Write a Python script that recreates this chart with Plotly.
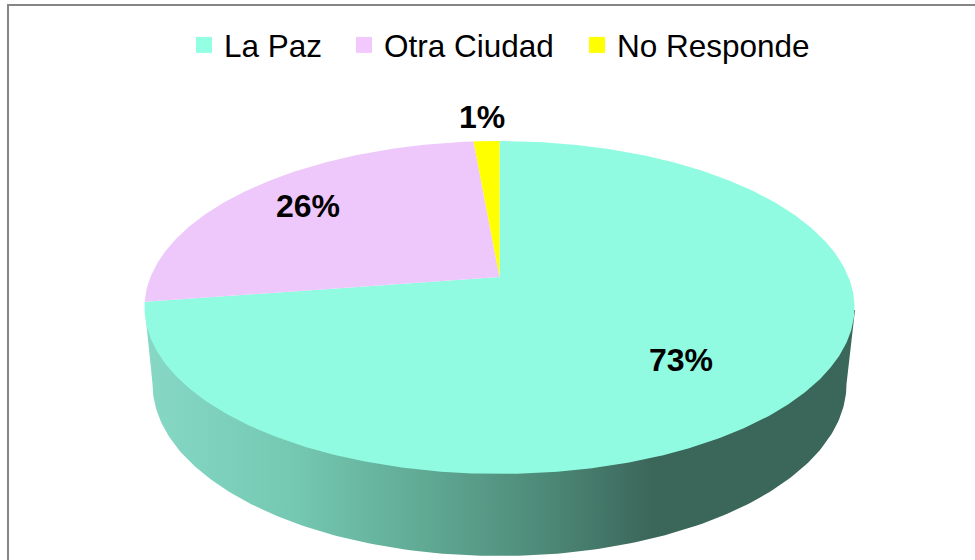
import numpy as np
import plotly.graph_objects as go

categories = ["La Paz", "Otra Ciudad", "No Responde"]
values = [72.6, 26.0, 1.4]
labels = ["73%", "26%", "1%"]
colors = ["#90FBE0", "#EEC8FB", "#FFFF00"]
legend_colors = ["#93FFE3", "#F3C9FD", "#FFFF00"]
label_pos = [(681, 360), (308, 206), (482, 117)]
legend_left = [184, 344, 577]

# pie is drawn in pixel space, top disc goes through a perspective map
CX, APEX_Y = 499.5, 277
RX, RY, K = 349, 160.9, 0.183
# lower rim of the wall
WALL_CY, WALL_RX, WALL_RY = 384, 347, 172


def project(theta, r=1.0):
    # theta clockwise from 12 o'clock
    X, Y = r * np.sin(theta), r * np.cos(theta)
    d = 1 + K * Y
    return CX + RX * X / d, APEX_Y - RY * Y / d


fig = go.Figure()

# side wall with the shading from left to right
t = np.linspace(np.pi, 0, 200)
wall_x = list(CX + WALL_RX * np.cos(t)) + [855, 145]
wall_y = list(WALL_CY + WALL_RY * np.sin(t)) + [310, 310]
fig.add_trace(go.Scatter(
    x=wall_x, y=wall_y, mode="lines", fill="toself", line=dict(width=0),
    showlegend=False, hoverinfo="skip",
    fillgradient=dict(
        type="horizontal", start=150, stop=850,
        colorscale=[[0, "#86D8C4"], [0.2, "#75C9B3"], [0.4, "#5FA892"],
                    [0.55, "#4F8C7A"], [0.72, "#3B665A"], [1, "#3B665A"]],
    ),
))

# slices, clockwise from the top
start = 0.0
for cat, val, col in zip(categories, values, colors):
    stop = start + val / sum(values) * 2 * np.pi
    th = np.linspace(start, stop, max(int(val * 6), 8))
    px_, py_ = project(th)
    fig.add_trace(go.Scatter(
        x=[CX] + list(px_) + [CX], y=[APEX_Y] + list(py_) + [APEX_Y],
        mode="lines", fill="toself", fillcolor=col, line=dict(width=0),
        name=cat, showlegend=False, hoverinfo="name",
    ))
    start = stop

# one legend per entry, the gaps between entries are not even
legend_names = ["legend", "legend2", "legend3"]
legend_cfg = {}
for cat, col, lname, left in zip(categories, legend_colors, legend_names, legend_left):
    fig.add_trace(go.Scatter(
        x=[None], y=[None], mode="markers", name=cat, legend=lname,
        marker=dict(symbol="square", size=17, color=col),
    ))
    legend_cfg[lname] = dict(x=left / 975, xanchor="left", y=0.968, yanchor="top",
                             font=dict(size=31.5), bgcolor="rgba(0,0,0,0)",
                             itemclick=False)

for txt, (lx, ly) in zip(labels, label_pos):
    fig.add_annotation(x=lx, y=ly, text=f"<b>{txt}</b>", showarrow=False,
                       font=dict(family="Liberation Sans", size=32, color="black"))

fig.add_shape(type="rect", x0=8, y0=5, x1=1100, y1=700,
              line=dict(color="#868686", width=2), fillcolor="rgba(0,0,0,0)")

fig.update_xaxes(range=[0, 975], visible=False, fixedrange=True)
fig.update_yaxes(range=[560, 0], visible=False, fixedrange=True)
fig.update_layout(
    width=975, height=560, margin=dict(l=0, r=0, t=0, b=0),
    paper_bgcolor="white", plot_bgcolor="white", showlegend=True,
    font=dict(family="Liberation Sans", color="black"),
    **legend_cfg,
)

fig.write_html("out.html", config={"displayModeBar": False},
               post_script="document.body.style.margin='0';")
